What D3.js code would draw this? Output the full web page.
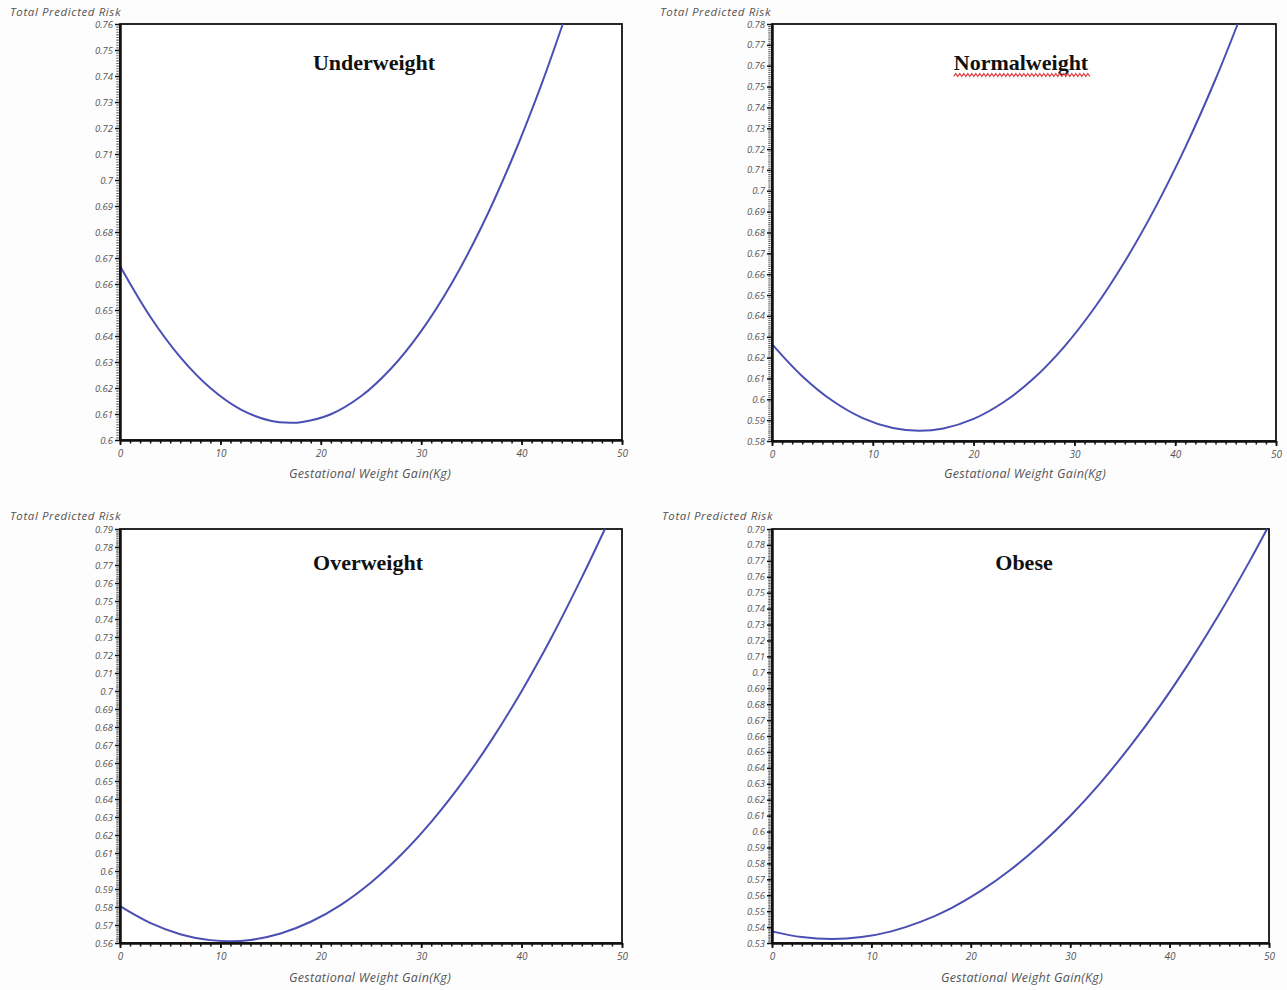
<!DOCTYPE html>
<html>
<head>
<meta charset="utf-8">
<script src="https://cdn.jsdelivr.net/npm/d3@7"></script>
<style>
  html, body { margin: 0; padding: 0; background: #fdfdfe; }
  svg { display: block; }
</style>
</head>
<body>
<script>
// ---------------- DATA ----------------
const panelTitles = ["Underweight", "Normalweight", "Overweight", "Obese"];
const yAxisTitle = "Total Predicted Risk";
const xAxisTitle = "Gestational Weight Gain(Kg)";
const xTickLabels = [0, 10, 20, 30, 40, 50];
const yAxisMin = [0.60, 0.58, 0.56, 0.53];
const yAxisMax = [0.76, 0.78, 0.79, 0.79];

const gainUnder = [0, 3, 6, 9, 12, 15, 17, 18, 21, 24, 27, 30, 33, 36, 39, 42, 44.1];
const riskUnder = [0.6669, 0.6475, 0.6319, 0.6200, 0.6118, 0.6074, 0.6066, 0.6068, 0.6099, 0.6168, 0.6275, 0.6419, 0.6600, 0.6819, 0.7076, 0.7370, 0.7600];

const gainNormal = [0, 3, 6, 9, 12, 14.6, 17, 20, 23, 26, 29, 32, 35, 38, 41, 44, 46.2];
const riskNormal = [0.6265, 0.6111, 0.5993, 0.5910, 0.5862, 0.5849, 0.5860, 0.5906, 0.5987, 0.6102, 0.6253, 0.6439, 0.6661, 0.6917, 0.7208, 0.7535, 0.7800];

const gainOver = [0, 3, 6, 9, 10.9, 13, 16, 19, 22, 25, 28, 31, 34, 37, 40, 43, 46, 48.3];
const riskOver = [0.5805, 0.5712, 0.5649, 0.5616, 0.5610, 0.5617, 0.5653, 0.5718, 0.5812, 0.5936, 0.6090, 0.6273, 0.6485, 0.6727, 0.6999, 0.7300, 0.7631, 0.7900];

const gainObese = [0, 3, 6, 9, 12, 15, 18, 21, 24, 27, 30, 33, 36, 39, 42, 45, 48, 49.8];
const riskObese = [0.5373, 0.5337, 0.5325, 0.5337, 0.5373, 0.5434, 0.5518, 0.5627, 0.5760, 0.5917, 0.6098, 0.6303, 0.6533, 0.6786, 0.7064, 0.7366, 0.7692, 0.7900];

const gainSeries = [gainUnder, gainNormal, gainOver, gainObese];
const riskSeries = [riskUnder, riskNormal, riskOver, riskObese];

// ---------------- LAYOUT ----------------
const W = 1287, H = 990;
const layout = [
  { l: 120, r: 622, t: 24, b: 440, tx: 374, ty: 70, ylx: 10, yly: 16, xlx: 370, xly: 478 },
  { l: 772, r: 1276, t: 24, b: 441, tx: 1021, ty: 70, ylx: 660, yly: 16, xlx: 1025, xly: 478 },
  { l: 120, r: 622, t: 529, b: 943, tx: 368, ty: 570, ylx: 10, yly: 520, xlx: 370, xly: 982 },
  { l: 772, r: 1269, t: 529, b: 943, tx: 1024, ty: 570, ylx: 662, yly: 520, xlx: 1022, xly: 982 }
];

const lineColor = "#4b4fb3";
const tickFont = "'Open Sans', 'DejaVu Sans', sans-serif";

const svg = d3.select("body").append("svg")
  .attr("width", W).attr("height", H);

svg.append("rect").attr("width", W).attr("height", H).attr("fill", "#fdfdfe");

function steps(min, max, step) {
  const a = Math.round(min / step), b = Math.round(max / step);
  return d3.range(a, b + 1).map(v => +(v * step).toFixed(4));
}

layout.forEach((L, i) => {
  const g = svg.append("g");
  const x = d3.scaleLinear().domain([0, 50]).range([L.l, L.r]);
  const y = d3.scaleLinear().domain([yAxisMin[i], yAxisMax[i]]).range([L.b, L.t]);

  // plot background + frame (top/right)
  g.append("rect")
    .attr("x", L.l).attr("y", L.t)
    .attr("width", L.r - L.l).attr("height", L.b - L.t)
    .attr("fill", "#ffffff")
    .attr("stroke", "#111").attr("stroke-width", 1.8);

  // curve
  const pts = gainSeries[i].map((d, j) => [d, riskSeries[i][j]]);
  g.append("path")
    .datum(pts)
    .attr("fill", "none")
    .attr("stroke", lineColor)
    .attr("stroke-width", 2)
    .attr("d", d3.line().x(d => x(d[0])).y(d => y(d[1])).curve(d3.curveCatmullRom.alpha(0.5)));

  // y minor ticks
  g.append("g").attr("transform", `translate(${L.l},0)`)
    .call(d3.axisLeft(y).tickValues(steps(yAxisMin[i], yAxisMax[i], 0.001)).tickSize(3.5).tickFormat(""))
    .call(s => s.select(".domain").remove())
    .call(s => s.selectAll("line").attr("stroke", "#222").attr("stroke-width", 1.1).attr("stroke-dasharray", "1.5,0.8"));

  // y major ticks + labels
  const yAx = g.append("g").attr("transform", `translate(${L.l},0)`)
    .call(d3.axisLeft(y).tickValues(steps(yAxisMin[i], yAxisMax[i], 0.01))
      .tickSize(5).tickSizeOuter(0).tickPadding(2)
      .tickFormat(d => String(+d.toFixed(2))));
  yAx.select(".domain").attr("stroke", "#111").attr("stroke-width", 2.5);
  yAx.selectAll("line").attr("stroke", "#111").attr("stroke-width", 1.5);
  yAx.selectAll("text")
    .attr("font-family", tickFont).attr("font-style", "italic")
    .attr("font-size", 9.5).attr("fill", "#555");

  // x minor ticks
  g.append("g").attr("transform", `translate(0,${L.b})`)
    .call(d3.axisBottom(x).tickValues(d3.range(0, 51, 1)).tickSize(3.5).tickFormat(""))
    .call(s => s.select(".domain").remove())
    .call(s => s.selectAll("line").attr("stroke", "#111").attr("stroke-width", 1.5));

  // x major ticks + labels
  const xAx = g.append("g").attr("transform", `translate(0,${L.b})`)
    .call(d3.axisBottom(x).tickValues(xTickLabels).tickSize(5).tickSizeOuter(0).tickPadding(5)
      .tickFormat(d => String(d)));
  xAx.select(".domain").attr("stroke", "#111").attr("stroke-width", 2.5);
  xAx.selectAll("line").attr("stroke", "#111").attr("stroke-width", 1.8);
  xAx.selectAll("text")
    .attr("font-family", tickFont).attr("font-style", "italic")
    .attr("font-size", 10).attr("fill", "#555");

  // y axis title
  g.append("text")
    .attr("x", L.ylx).attr("y", L.yly)
    .attr("font-family", tickFont).attr("font-style", "italic")
    .attr("font-size", 11.5).attr("fill", "#555")
    .attr("letter-spacing", "0.6")
    .text(yAxisTitle);

  // x axis title
  g.append("text")
    .attr("x", L.xlx).attr("y", L.xly)
    .attr("text-anchor", "middle")
    .attr("font-family", tickFont).attr("font-style", "italic")
    .attr("font-size", 12.5).attr("fill", "#555")
    .attr("letter-spacing", "0.3")
    .text(xAxisTitle);

  // panel title
  const t = g.append("text")
    .attr("x", L.tx).attr("y", L.ty)
    .attr("text-anchor", "middle")
    .attr("font-family", "'Liberation Serif', 'Times New Roman', serif")
    .attr("font-weight", "bold")
    .attr("font-size", 22).attr("fill", "#111")
    .text(panelTitles[i]);

  // spell-check squiggle under "Normalweight" as in the source image
  if (i === 1) {
    const bb = t.node().getBBox();
    const yw = L.ty + 5;
    const pts2 = [];
    for (let px = bb.x; px <= bb.x + bb.width + 2; px += 2) {
      pts2.push([px, yw + ((Math.round((px - bb.x) / 2) % 2) ? -1.5 : 1.5)]);
    }
    g.append("path")
      .attr("d", d3.line()(pts2))
      .attr("fill", "none").attr("stroke", "#e03a3a").attr("stroke-width", 1.2);
  }
});
</script>
</body>
</html>
